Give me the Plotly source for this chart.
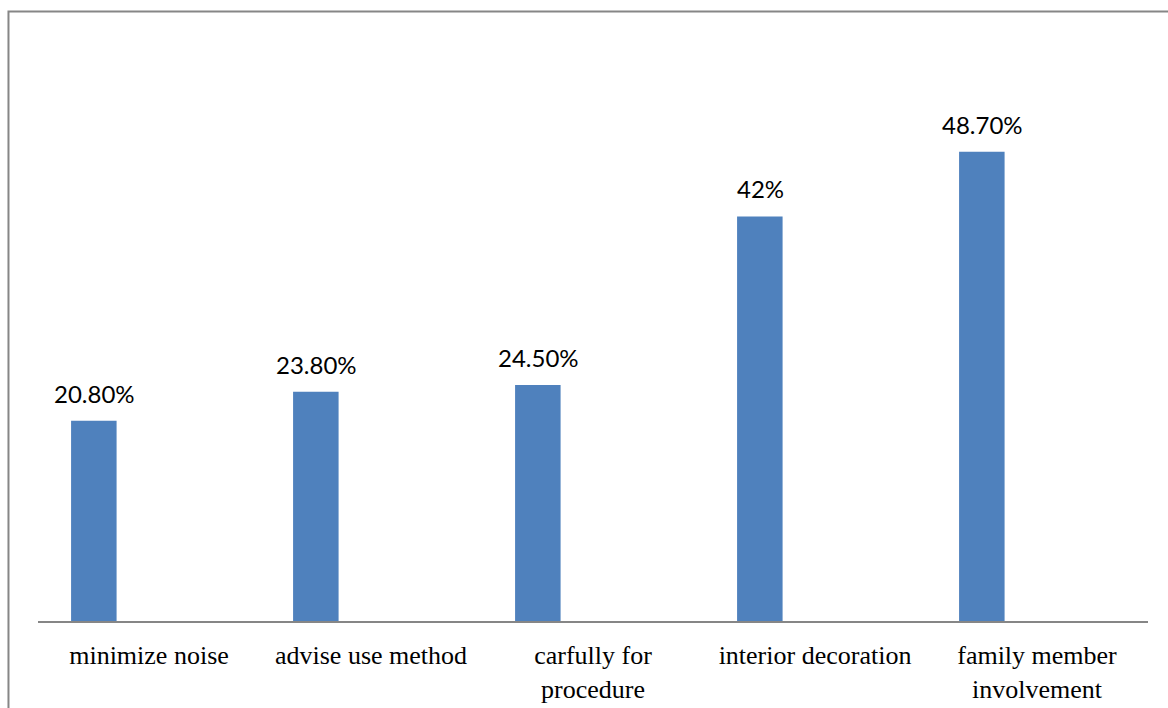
import plotly.graph_objects as go

categories = ["minimize noise", "advise use method", "carfully for<br>procedure",
              "interior decoration", "family member<br>involvement"]
values = [20.8, 23.8, 24.5, 42, 48.7]
value_labels = ["20.80%", "23.80%", "24.50%", "42%", "48.70%"]

fig = go.Figure()
fig.add_trace(go.Bar(
    x=categories, y=values,
    marker=dict(color="#4F81BD", line=dict(width=0)),
    width=0.205, offset=-0.351,
    hoverinfo="skip",
))

for c, v, t in zip(categories, values, value_labels):
    fig.add_annotation(x=c, y=v, text=t, showarrow=False, xanchor="center",
                       yanchor="bottom", xshift=-55, yshift=11,
                       font=dict(family="Lato", size=24, color="#000000"))

fig.update_layout(
    width=1168, height=708,
    margin=dict(l=38, r=20, t=43, b=87, autoexpand=False),
    paper_bgcolor="white", plot_bgcolor="white",
    showlegend=False,
    xaxis=dict(type="category", range=[-0.5, 4.5], showline=True, linecolor="#868686",
               linewidth=2, showgrid=False, ticks="", zeroline=False, automargin=False,
               tickfont=dict(family="Liberation Serif", size=26, color="#000000"),
               ticklabelstandoff=10),
    yaxis=dict(range=[0, 60], visible=False, showgrid=False, automargin=False),
    shapes=[dict(type="rect", xref="paper", yref="paper",
                 x0=-0.0266, y0=-0.3, x1=1.1, y1=1.0545,
                 line=dict(color="#868686", width=2), fillcolor="rgba(0,0,0,0)",
                 layer="above")],
)

fig.write_html("out.html")
